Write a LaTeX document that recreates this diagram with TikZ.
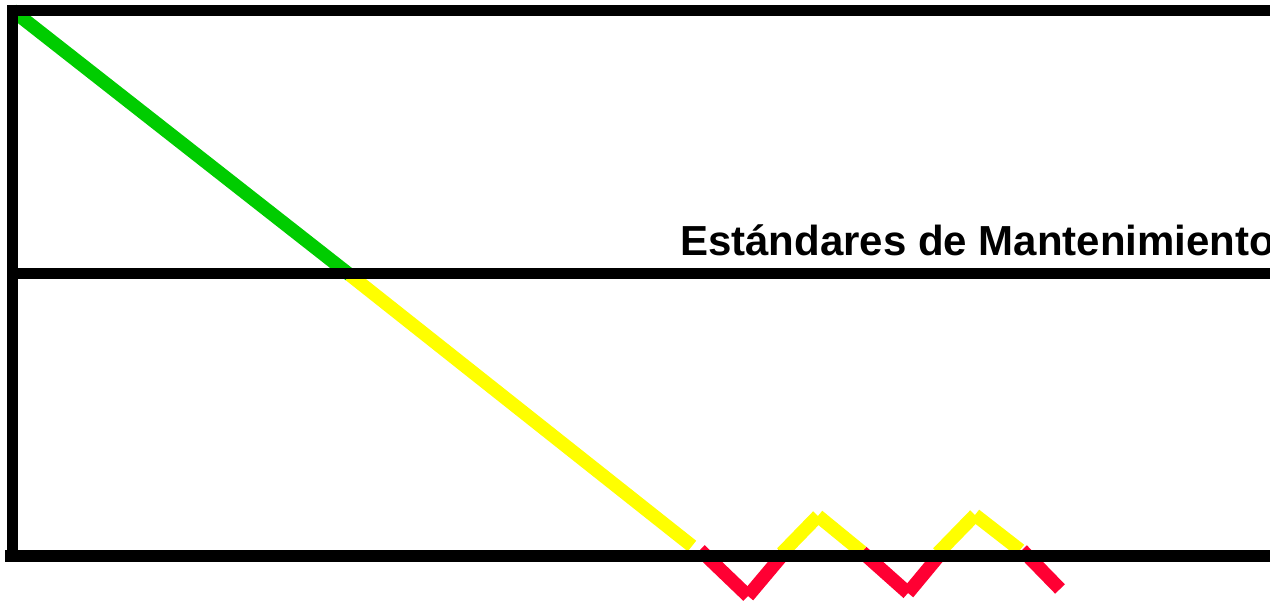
\documentclass[tikz,border=0pt]{standalone}
\usepackage{fontspec}
\setmainfont{Liberation Sans}
\definecolor{verde}{RGB}{0,204,0}
\definecolor{amarillo}{RGB}{255,255,0}
\definecolor{rojo}{RGB}{255,0,51}
\tikzset{
  eje/.style={line width=11.5pt,black},
  tramo/.style={line width=13.5pt},
}
\begin{document}
\begin{tikzpicture}[x=1pt,y=-1pt]
      \useasboundingbox (0,0) rectangle (1270,605);
      \clip (0,0) rectangle (1270,605);
      \draw
        (12,10) coordinate (inicio)
        (350,275) coordinate (corte)
        (692,546) coordinate (fin)
        (700,550) coordinate (r0)
        (748,596) coordinate (v1)
        (785,552) coordinate (r1)
        (782,553) coordinate (a1)
        (818,516) coordinate (p1)
        (862,552) coordinate (a2)
        (908,593) coordinate (v2)
        (942,552) coordinate (r2)
        (938,553) coordinate (a3)
        (975,515) coordinate (p2)
        (1020,550) coordinate (a4)
        (1022,550) coordinate (r3)
        (1060,589) coordinate (r4);
      \begin{scope}[tramo]
        \draw[verde] (inicio) to (corte);
        \draw[amarillo] (corte) to (fin);
        \draw[rojo] (r0) to (v1);
        \draw[rojo] (v1) to (r1);
        \draw[amarillo] (a1) to (p1);
        \draw[amarillo] (p1) to (a2);
        \draw[rojo] (a2) to (v2);
        \draw[rojo] (v2) to (r2);
        \draw[amarillo] (a3) to (p2);
        \draw[amarillo] (p2) to (a4);
        \draw[rojo] (r3) to (r4);
      \end{scope}
      \draw
        (7,10.5) coordinate (tl)
        (1270,10.5) coordinate (tr)
        (12.5,5) coordinate (lt)
        (12.5,562) coordinate (lb)
        (5,556) coordinate (bl)
        (1270,556) coordinate (br)
        (18,273.5) coordinate (ml)
        (1270,273.5) coordinate (mr);
      \begin{scope}[eje]
        \draw (tl) to (tr);
        \draw (lt) to (lb);
        \draw (bl) to (br);
        \draw (ml) to (mr);
      \end{scope}
      \node[anchor=base west,inner sep=0pt,font=\bfseries\fontsize{42}{50}\selectfont]
        (estandar) at (680,255) {Estándares de Mantenimiento};
    \end{tikzpicture}
\end{document}
